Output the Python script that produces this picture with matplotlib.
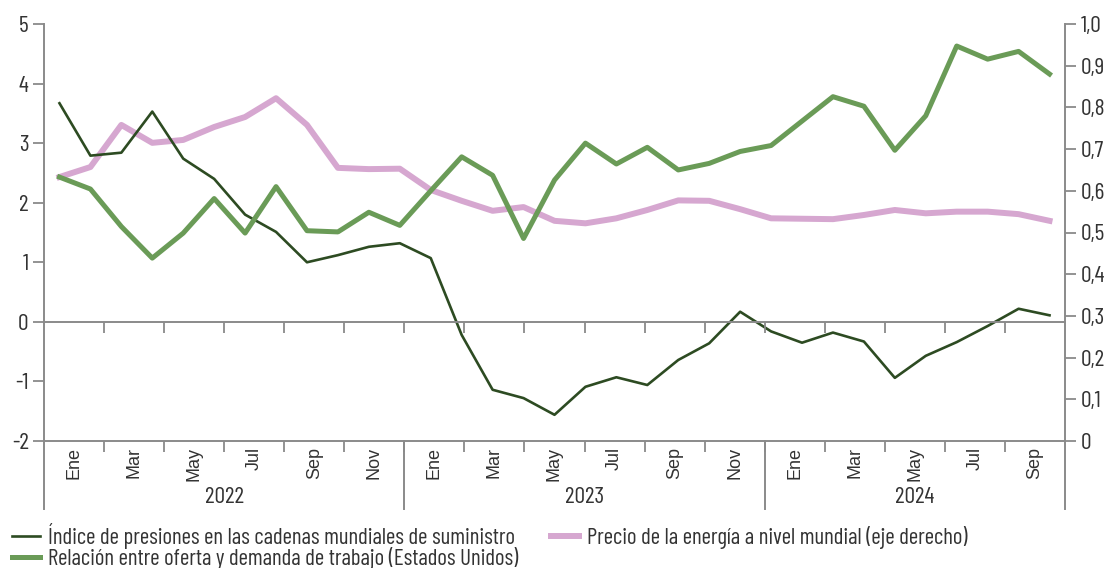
import numpy as np
import matplotlib
matplotlib.use("Agg")
import matplotlib.pyplot as plt
from matplotlib.ticker import FuncFormatter, FixedLocator

plt.rcParams['font.family'] = ['Barlow Condensed', 'Roboto Condensed', 'DejaVu Sans']

# %% data (monthly, Ene 2022 - Sep 2024)
presiones = [3.67, 2.79, 2.84, 3.53, 2.74, 2.40, 1.80, 1.51, 1.00, 1.12, 1.26, 1.32,
             1.07, -0.22, -1.14, -1.28, -1.56, -1.09, -0.93, -1.06, -0.64, -0.36, 0.17, -0.16,
             -0.35, -0.18, -0.33, -0.94, -0.57, -0.34, -0.07, 0.22, 0.11]
relacion = [2.43, 2.23, 1.60, 1.07, 1.49, 2.07, 1.49, 2.27, 1.53, 1.51, 1.84, 1.62,
            2.20, 2.77, 2.46, 1.40, 2.38, 3.00, 2.65, 2.93, 2.55, 2.66, 2.86, 2.96,
            3.37, 3.78, 3.62, 2.88, 3.46, 4.63, 4.41, 4.54, 4.16]
energia = [0.633, 0.657, 0.758, 0.715, 0.722, 0.753, 0.777, 0.822, 0.758, 0.655, 0.652, 0.653,
           0.602, 0.576, 0.552, 0.561, 0.528, 0.522, 0.534, 0.554, 0.577, 0.576, 0.556, 0.534,
           0.533, 0.532, 0.542, 0.554, 0.546, 0.550, 0.550, 0.544, 0.528]

meses = ['Ene', 'Mar', 'May', 'Jul', 'Sep', 'Nov']
anios = ['2022', '2023', '2024']
meses_por_anio = [12, 12, 10]   # category slots on the label axis (last year has an empty slot)

c_dark = '#2d4b22'
c_green = '#6a9b57'
c_pink = '#d6a7d0'
c_axis = '#8a8a8a'
c_text = '#333333'

# %% figure
fig = plt.figure(figsize=(11.08, 5.68), dpi=100)
ax = fig.add_axes([44/1108, 1 - 441/568, (1065 - 44)/1108, 417/568])
ax2 = ax.twinx()
ax.set_zorder(ax2.get_zorder() + 1)
ax.patch.set_visible(False)

x = np.arange(len(presiones)) + 0.5
l3, = ax2.plot(x, energia, color=c_pink, lw=4.3)
l1, = ax.plot(x, presiones, color=c_dark, lw=1.9)
l2, = ax.plot(x, relacion, color=c_green, lw=3.6)

ax.set_xlim(0, len(presiones))
ax.set_ylim(-2, 5)
ax2.set_ylim(0, 1.0)
ax.set_yticks(range(-2, 6))
ax2.set_yticks(np.arange(0, 1.01, 0.1))
ax.yaxis.set_major_formatter(FuncFormatter(lambda v, p: f'{int(round(v))}'))
ax2.yaxis.set_major_formatter(FuncFormatter(
    lambda v, p: '0' if abs(v) < 1e-9 else f'{v:.1f}'.replace('.', ',')))

for a in (ax, ax2):
    for s in a.spines.values():
        s.set_visible(False)
    a.tick_params(axis='y', colors=c_axis, labelcolor=c_text, labelsize=17,
                  length=8, width=1.3, pad=3)
ax.spines['left'].set_visible(True)
ax.spines['left'].set_color(c_axis)
ax.spines['left'].set_linewidth(1.4)
ax2.spines['right'].set_visible(True)
ax2.spines['right'].set_color(c_axis)
ax2.spines['right'].set_linewidth(1.4)
ax.set_xticks([])

# category axis: one slot per month, labels every two months
n_slots = sum(meses_por_anio)
axl = ax.twiny()
axl.set_xlim(0, n_slots)
for s in axl.spines.values():
    s.set_visible(False)
axl.spines['bottom'].set_visible(True)
axl.spines['bottom'].set_color(c_axis)
axl.spines['bottom'].set_linewidth(1.4)
axl.xaxis.set_ticks_position('bottom')
axl.xaxis.set_major_locator(FixedLocator(np.arange(2, n_slots, 2)))
etiquetas = []
for n in meses_por_anio:
    etiquetas += meses[:n // 2]
axl.set_xticks(np.arange(1, n_slots, 2), etiquetas, minor=True)
axl.tick_params(axis='x', which='major', colors=c_axis, length=8, width=1.3, labelbottom=False)
axl.tick_params(axis='x', which='minor', length=0, labelsize=13, labelcolor=c_text,
                labelrotation=90, pad=4)
for t in axl.get_xticklabels(minor=True):
    t.set_family(['Liberation Sans', 'DejaVu Sans'])

# zero line with its own ticks
axz = ax.twiny()
axz.set_xlim(0, n_slots)
for s in axz.spines.values():
    s.set_visible(False)
axz.spines['bottom'].set_visible(True)
axz.spines['bottom'].set_position(('data', 0))
axz.spines['bottom'].set_color(c_axis)
axz.spines['bottom'].set_linewidth(1.4)
axz.xaxis.set_ticks_position('bottom')
axz.set_xticks(np.arange(2, n_slots, 2))
axz.tick_params(axis='x', colors=c_axis, length=8, width=1.3, labelbottom=False)

# year groups
bordes = np.concatenate([[0], np.cumsum(meses_por_anio)])
tr = axl.get_xaxis_transform()
for b in bordes:
    axl.plot([b, b], [0, -0.162], transform=tr, color=c_axis, lw=1.4, clip_on=False)
for i, anio in enumerate(anios):
    axl.text((bordes[i] + bordes[i + 1]) / 2, -0.135, anio, transform=tr,
             ha='center', va='center', fontsize=17, color=c_text)

fig.legend([l1, l2, l3],
           ['Índice de presiones en las cadenas mundiales de suministro',
            'Relación entre oferta y demanda de trabajo (Estados Unidos)',
            'Precio de la energía a nivel mundial (eje derecho)'],
           ncol=2, loc='upper left', bbox_to_anchor=(12/1108, 1 - 523/568), frameon=False,
           borderpad=0, borderaxespad=0,
           fontsize=16.5, handlelength=1.22, handletextpad=0.35, columnspacing=1.45,
           labelspacing=-0.1, labelcolor=c_text)

fig.savefig('out.png', dpi=100)
